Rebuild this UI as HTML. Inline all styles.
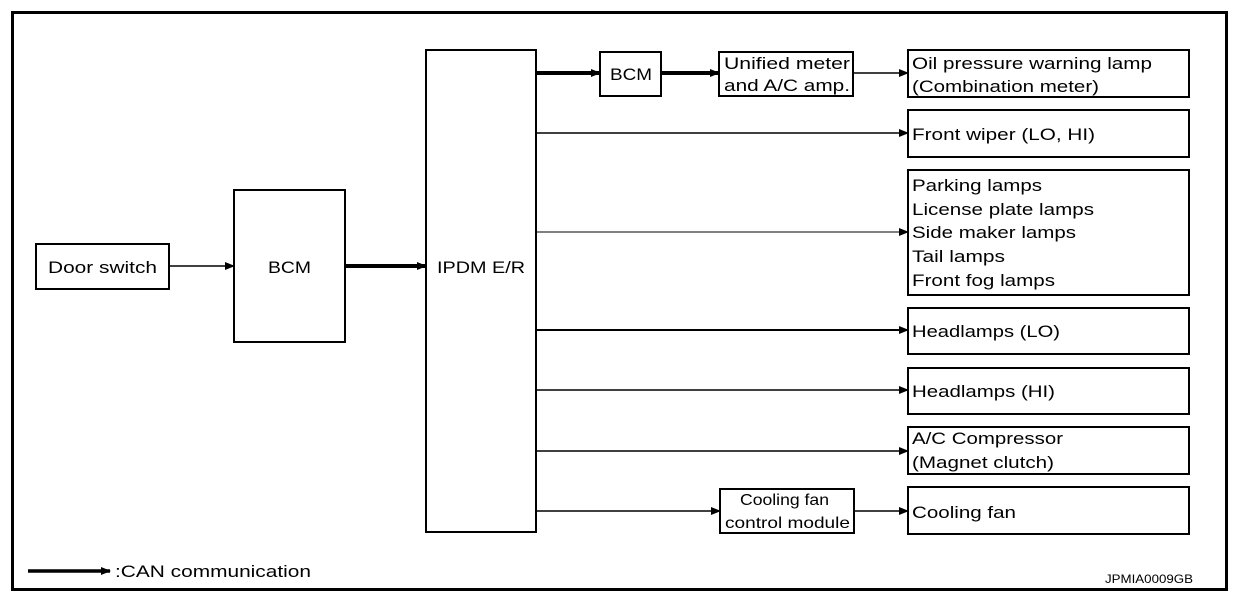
<!DOCTYPE html>
<html><head><meta charset="utf-8"><style>
html,body{margin:0;padding:0;background:#fff}
svg{display:block}
text{font-family:"Liberation Sans",Arial,sans-serif;font-size:17px;fill:#000}
</style></head><body>
<svg width="1248" height="596" viewBox="0 0 1248 596">
<defs>
<marker id="a" markerWidth="10" markerHeight="8" refX="9" refY="4" orient="auto" markerUnits="userSpaceOnUse"><path d="M0,0 L10,4 L0,8 z" fill="#000"/></marker>
</defs>
<rect x="12.5" y="12.5" width="1214" height="577" fill="none" stroke="#000" stroke-width="3"/>
<g fill="none" stroke="#000" stroke-width="2">
<rect x="36" y="244" width="133" height="45"/>
<rect x="234" y="190" width="111" height="152"/>
<rect x="426" y="50" width="110" height="482"/>
<rect x="600" y="52" width="61" height="44"/>
<rect x="719" y="52" width="134" height="44"/>
<rect x="720" y="489" width="134" height="44"/>
<rect x="908" y="50" width="281" height="47"/>
<rect x="908" y="110" width="281" height="47"/>
<rect x="908" y="170" width="281" height="125"/>
<rect x="908" y="308" width="281" height="46"/>
<rect x="908" y="368" width="281" height="46"/>
<rect x="908" y="427" width="281" height="47"/>
<rect x="908" y="487" width="281" height="47"/>
</g>
<g stroke="#000" marker-end="url(#a)">
<line x1="169" y1="266" x2="234" y2="266" stroke-width="1.5"/>
<line x1="345" y1="266" x2="426" y2="266" stroke-width="4"/>
<line x1="536" y1="73" x2="600" y2="73" stroke-width="4"/>
<line x1="661" y1="73" x2="719" y2="73" stroke-width="4"/>
<line x1="853" y1="73" x2="908" y2="73" stroke-width="1.5"/>
<line x1="536" y1="133" x2="908" y2="133" stroke-width="1.5"/>
<line x1="536" y1="232" x2="908" y2="232" stroke-width="1"/>
<line x1="536" y1="330" x2="908" y2="330" stroke-width="2"/>
<line x1="536" y1="390" x2="908" y2="390" stroke-width="1.5"/>
<line x1="536" y1="451" x2="908" y2="451" stroke-width="1.5"/>
<line x1="536" y1="511" x2="720" y2="511" stroke-width="1.5"/>
<line x1="854" y1="511" x2="908" y2="511" stroke-width="1.5"/>
<line x1="28" y1="571" x2="110" y2="571" stroke-width="3.5"/>
</g>
<g>
<text x="48" y="273" textLength="109" lengthAdjust="spacingAndGlyphs">Door switch</text>
<text x="268" y="273" textLength="43" lengthAdjust="spacingAndGlyphs">BCM</text>
<text x="437" y="273" textLength="88" lengthAdjust="spacingAndGlyphs">IPDM E/R</text>
<text x="610" y="80" textLength="42" lengthAdjust="spacingAndGlyphs">BCM</text>
<text x="724" y="69" textLength="126" lengthAdjust="spacingAndGlyphs">Unified meter</text>
<text x="724" y="91" textLength="126" lengthAdjust="spacingAndGlyphs">and A/C amp.</text>
<text x="740" y="505" style="font-size:16px" textLength="89" lengthAdjust="spacingAndGlyphs">Cooling fan</text>
<text x="725" y="528" style="font-size:16px" textLength="125" lengthAdjust="spacingAndGlyphs">control module</text>
<text x="912" y="69" textLength="240" lengthAdjust="spacingAndGlyphs">Oil pressure warning lamp</text>
<text x="912" y="92" textLength="187" lengthAdjust="spacingAndGlyphs">(Combination meter)</text>
<text x="912" y="140" textLength="183" lengthAdjust="spacingAndGlyphs">Front wiper (LO, HI)</text>
<text x="912" y="191" textLength="130" lengthAdjust="spacingAndGlyphs">Parking lamps</text>
<text x="912" y="215" textLength="182" lengthAdjust="spacingAndGlyphs">License plate lamps</text>
<text x="912" y="238" textLength="164" lengthAdjust="spacingAndGlyphs">Side maker lamps</text>
<text x="912" y="262" textLength="93" lengthAdjust="spacingAndGlyphs">Tail lamps</text>
<text x="912" y="286" textLength="143" lengthAdjust="spacingAndGlyphs">Front fog lamps</text>
<text x="912" y="337" textLength="148" lengthAdjust="spacingAndGlyphs">Headlamps (LO)</text>
<text x="912" y="397" textLength="143" lengthAdjust="spacingAndGlyphs">Headlamps (HI)</text>
<text x="912" y="444" textLength="151" lengthAdjust="spacingAndGlyphs">A/C Compressor</text>
<text x="912" y="468" textLength="142" lengthAdjust="spacingAndGlyphs">(Magnet clutch)</text>
<text x="912" y="518" textLength="104" lengthAdjust="spacingAndGlyphs">Cooling fan</text>
<text x="115" y="577" textLength="196" lengthAdjust="spacingAndGlyphs">:CAN communication</text>
<text x="1105" y="583" style="font-size:12px" textLength="88" lengthAdjust="spacingAndGlyphs">JPMIA0009GB</text>
</g>
</svg>
</body></html>
